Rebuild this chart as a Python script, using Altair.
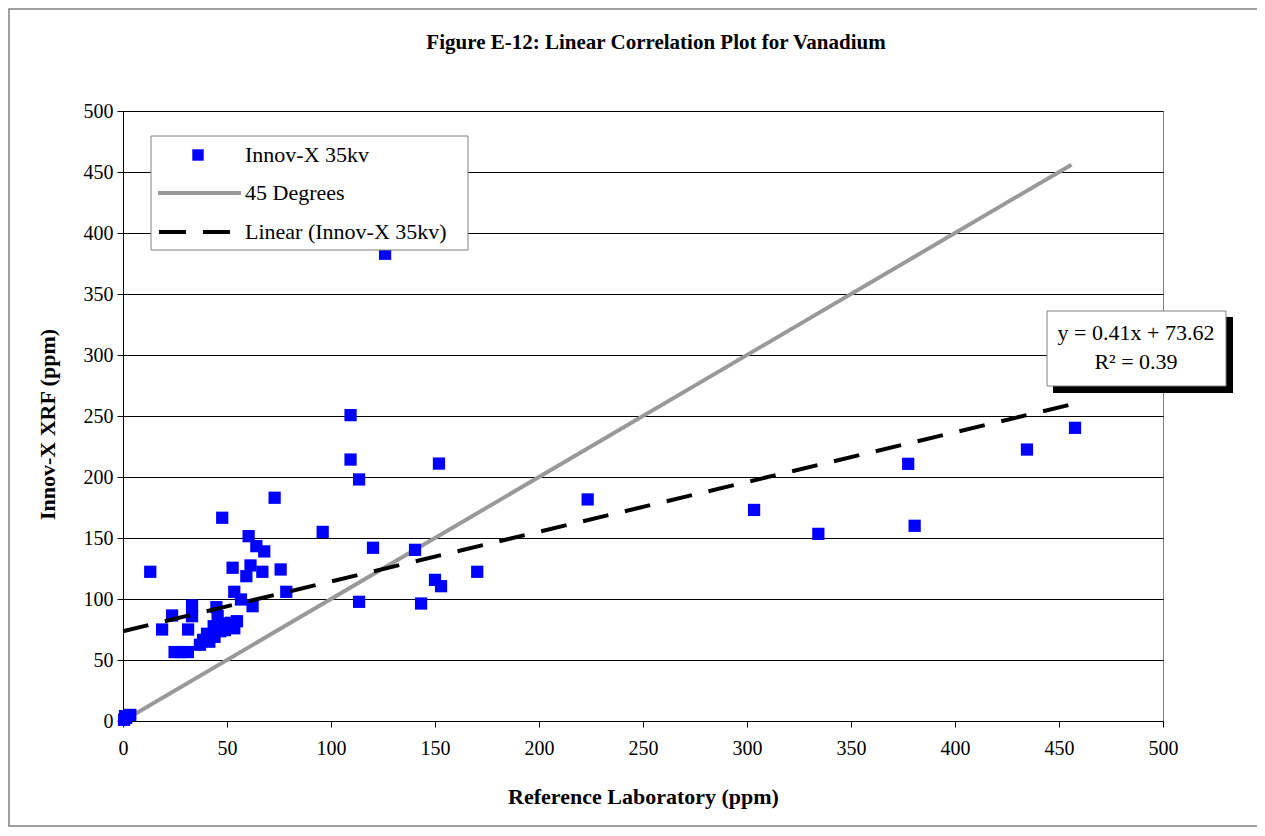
import altair as alt
import pandas as pd

ref_lab = [0.5, 1.5, 3.5, 1.0,
           13.1, 18.8, 23.6, 24.8, 27.8, 31.2, 31.3, 33.2, 33.2,
           37.0, 38.5, 40.4, 41.5, 43.6, 44.0, 44.9, 45.5, 46.8, 47.5, 49.0, 50.0, 52.0, 53.5, 54.8,
           47.7, 52.7, 53.5, 56.7, 59.3, 60.4, 61.3, 62.3, 64.1, 67.0, 67.9, 72.9, 75.8, 78.5,
           96.0, 109.4, 109.4, 113.5, 113.5, 120.2, 126.0, 140.4, 143.3, 150.0, 151.9, 152.9, 170.3,
           223.4, 303.4, 334.3, 377.5, 380.6, 434.6, 457.7]
xrf = [1.0, 2.5, 5.0, 4.0,
       122.3, 75.0, 86.5, 56.5, 56.5, 56.5, 75.0, 94.7, 85.9,
       62.5, 66.5, 71.5, 65.0, 77.7, 69.0, 93.3, 85.9, 73.6, 80.0, 74.5, 77.7, 80.5, 76.0, 81.8,
       166.6, 125.6, 105.9, 99.6, 118.7, 151.5, 127.5, 94.1, 143.3, 122.3, 139.0, 183.0, 124.2, 105.9,
       155.0, 250.7, 214.3, 198.0, 97.7, 142.0, 383.0, 140.3, 96.3, 115.7, 211.0, 110.5, 122.3,
       181.6, 173.0, 153.4, 210.8, 160.0, 222.5, 240.3]

# 45-degree reference line and linear trend line endpoints
line45_x = [0, 456]
line45_y = [0, 456]
trend_x = [0, 456]
trend_y = [73.6, 259.5]

x_ticks = list(range(0, 501, 50))
y_ticks = list(range(0, 501, 50))

SERIF = "Liberation Serif"

pts = pd.DataFrame({"ref": ref_lab, "xrf": xrf})
l45 = pd.DataFrame({"ref": line45_x, "xrf": line45_y})
trend = pd.DataFrame({"ref": trend_x, "xrf": trend_y})
one = pd.DataFrame({"a": [0]})

xenc = alt.X("ref:Q", scale=alt.Scale(domain=[0, 500], nice=False, zero=True),
             axis=alt.Axis(values=x_ticks, grid=False, title="Reference Laboratory (ppm)",
                           titleX=520, titleY=75, titleBaseline="middle",
                           labelPadding=11, labelFlush=False))
yenc = alt.Y("xrf:Q", scale=alt.Scale(domain=[0, 500], nice=False, zero=True),
             axis=alt.Axis(values=y_ticks, grid=True, title="Innov-X XRF (ppm)",
                           titleX=-76, titleY=313, titleBaseline="middle",
                           labelPadding=4, labelFlush=False))

line45_layer = alt.Chart(l45).mark_line(color="#999999", strokeWidth=4).encode(x=xenc, y=yenc)
points_layer = alt.Chart(pts).mark_square(size=150, color="#0000FF", opacity=1).encode(x=xenc, y=yenc)
trend_layer = alt.Chart(trend).mark_line(color="black", strokeWidth=4, strokeDash=[26, 17]).encode(x=xenc, y=yenc)

# Outer frame
frame = alt.Chart(one).mark_rect(fillOpacity=0, stroke="#808080", strokeWidth=1.5).encode(
    x=alt.value(-114), x2=alt.value(1135), y=alt.value(-102), y2=alt.value(715))

# Title
title = alt.Chart(one).mark_text(font=SERIF, fontSize=21, fontWeight="bold", align="center",
                                 baseline="middle", color="black").encode(
    x=alt.value(533), y=alt.value(-68), text=alt.value("Figure E-12:  Linear Correlation Plot for Vanadium"))

# Legend box
leg_box = alt.Chart(one).mark_rect(fill="white", stroke="#808080", strokeWidth=1).encode(
    x=alt.value(28), x2=alt.value(345), y=alt.value(25), y2=alt.value(139))
leg_sq = alt.Chart(one).mark_square(size=130, color="#0000FF", opacity=1).encode(
    x=alt.value(75), y=alt.value(44))
leg_l45 = alt.Chart(one).mark_rule(color="#999999", strokeWidth=4).encode(
    x=alt.value(35), x2=alt.value(118), y=alt.value(82))
leg_tr = alt.Chart(one).mark_rule(color="black", strokeWidth=4, strokeDash=[27, 17]).encode(
    x=alt.value(36), x2=alt.value(108), y=alt.value(121))
leg_labels = ["Innov-X 35kv", "45 Degrees", "Linear (Innov-X 35kv)"]
leg_ys = [44, 82, 121]
leg_txt = [alt.Chart(one).mark_text(font=SERIF, fontSize=22, align="left", baseline="middle",
                                    color="black").encode(
    x=alt.value(122), y=alt.value(yv), text=alt.value(t)) for t, yv in zip(leg_labels, leg_ys)]

# Equation box with shadow
eq_shadow = alt.Chart(one).mark_rect(fill="black").encode(
    x=alt.value(930), x2=alt.value(1110), y=alt.value(206), y2=alt.value(282))
eq_box = alt.Chart(one).mark_rect(fill="white", stroke="#808080", strokeWidth=1).encode(
    x=alt.value(924), x2=alt.value(1103), y=alt.value(200), y2=alt.value(275))
eq_lines = ["y = 0.41x + 73.62", "R² = 0.39"]
eq_ys = [222, 251]
eq_txt = [alt.Chart(one).mark_text(font=SERIF, fontSize=22, align="center", baseline="middle",
                                   color="black").encode(
    x=alt.value(1013), y=alt.value(yv), text=alt.value(t)) for t, yv in zip(eq_lines, eq_ys)]

chart = alt.layer(
    frame, title, line45_layer, points_layer, trend_layer,
    leg_box, leg_sq, leg_l45, leg_tr, *leg_txt,
    eq_shadow, eq_box, *eq_txt
).properties(
    width=1040, height=610,
    autosize=alt.AutoSizeParams(type="none"),
    padding={"left": 115, "top": 103, "right": 94, "bottom": 107},
    background="white",
).configure_view(
    stroke="#808080", strokeWidth=1
).configure_axis(
    labelFont=SERIF, labelFontSize=20, labelColor="black",
    titleFont=SERIF, titleFontSize=22, titleFontWeight="bold", titleColor="black",
    domainColor="black", domainWidth=1, tickColor="black", tickSize=6, tickWidth=1,
    gridColor="black", gridWidth=1, gridOpacity=1,
)

chart.save("out.html", embed_options={"renderer": "svg", "actions": False})
